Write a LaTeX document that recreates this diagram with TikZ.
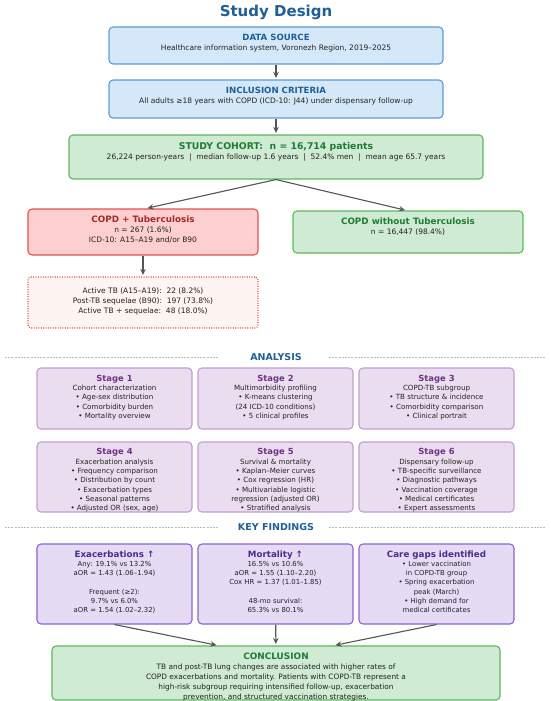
\documentclass[tikz,border=0pt]{standalone}
\usepackage{fontspec}
\setmainfont{DejaVu Sans}
\usetikzlibrary{arrows.meta}

\definecolor{txt}{HTML}{222222}
\definecolor{headblue}{HTML}{1F5F96}
\definecolor{bluefill}{HTML}{D5E8F9}
\definecolor{blueedge}{HTML}{5B9BD5}
\definecolor{greenfill}{HTML}{D0EBD3}
\definecolor{greenedge}{HTML}{5CB85C}
\definecolor{greenhead}{HTML}{1E7B34}
\definecolor{redfill}{HTML}{FDCFCF}
\definecolor{rededge}{HTML}{E05252}
\definecolor{redhead}{HTML}{A52A2A}
\definecolor{palefill}{HTML}{FEF4F2}
\definecolor{stagefill}{HTML}{EBDDF0}
\definecolor{stageedge}{HTML}{C39BD3}
\definecolor{stagehead}{HTML}{6C3483}
\definecolor{findfill}{HTML}{E5DBF5}
\definecolor{findedge}{HTML}{8E62D0}
\definecolor{findhead}{HTML}{4A2C8A}
\definecolor{arrowgray}{HTML}{555555}
\definecolor{sepgray}{HTML}{BBBBBB}

% bold coloured heading line, with a strut so that every box text starts alike
\newcommand{\hd}[3]{{\fontsize{#2}{#2}\selectfont\bfseries\color{#1}\rule{0pt}{0.8em}#3}}

\tikzset{
	box/.style={draw, rounded corners=4pt, line width=1.1pt, inner sep=0pt},
	bluebox/.style={box, draw=blueedge, fill=bluefill, minimum width=334pt},
	greenbox/.style={box, draw=greenedge, fill=greenfill},
	redbox/.style={box, draw=rededge, fill=redfill, minimum width=230pt},
	stagebox/.style={box, draw=stageedge, fill=stagefill, minimum width=155pt},
	findbox/.style={box, draw=findedge, fill=findfill, minimum width=155pt, minimum height=80pt},
	boxtext/.style={anchor=north, align=center, inner sep=0pt, text=txt, font=\fontsize{7.5}{10}\selectfont},
	stagetext/.style={boxtext, font=\fontsize{7.1}{9.3}\selectfont},
	findtext/.style={boxtext, font=\fontsize{6.9}{9.1}\selectfont},
	arr/.style={-{Stealth[length=6pt,width=5.5pt]}, color=arrowgray, line width=1.1pt, shorten >=1.5pt},
	sepline/.style={draw=sepgray, line width=0.6pt, dash pattern=on 2pt off 1.2pt},
	sechead/.style={inner sep=0pt, font=\fontsize{9.5}{10}\selectfont\bfseries, text=headblue}
}

\begin{document}
\begin{tikzpicture}[x=1pt,y=-1pt]
		\useasboundingbox (0,0) rectangle (550,701);
		\node[anchor=base, font=\fontsize{15}{15}\selectfont\bfseries, text=headblue] (title) at (276,16.5) {Study Design};
		
		% top of the flow
		\node[bluebox, minimum height=37pt] (src) at (276,45.5) {};
		\node[boxtext] (srctext) at ([yshift=-7.2pt]src.north)
			{\hd{headblue}{8.6}{DATA SOURCE}\\Healthcare information system, Voronezh Region, 2019–2025};
		\node[bluebox, minimum height=38pt] (incl) at (276,99) {};
		\node[boxtext] (incltext) at ([yshift=-7pt]incl.north)
			{\hd{headblue}{8.6}{INCLUSION CRITERIA}\\All adults ≥18 years with COPD (ICD-10: J44) under dispensary follow-up};
		\node[greenbox, minimum width=414pt, minimum height=44pt] (cohort) at (276,157) {};
		\node[boxtext] (cohorttext) at ([yshift=-7.4pt]cohort.north)
			{\hd{greenhead}{9.3}{STUDY COHORT:~~n = 16,714 patients}\\26,224 person-years~~|~~median follow-up 1.6 years~~|~~52.4\% men~~|~~mean age 65.7 years};
		\node[redbox, minimum height=46pt] (tb) at (143,232) {};
		\node[boxtext] (tbtext) at ([yshift=-7.3pt]tb.north)
			{\hd{redhead}{8.8}{COPD + Tuberculosis}\\n = 267 (1.6\%)\\ICD-10: A15–A19 and/or B90};
		\node[greenbox, minimum width=230pt, minimum height=42pt] (nontb) at (408,232) {};
		\node[boxtext] (nontbtext) at ([yshift=-7pt]nontb.north)
			{\hd{greenhead}{8.8}{COPD without Tuberculosis}\\n = 16,447 (98.4\%)};
		\node[box, draw=rededge, fill=palefill, dash pattern=on 1pt off 1.4pt, rounded corners=3pt,
			minimum width=230pt, minimum height=51pt] (tbdetail) at (143,302.5) {};
		\node[boxtext] (tbdetailtext) at ([yshift=-11pt]tbdetail.north)
			{\rule{0pt}{0.8em}Active TB (A15–A19):~~22 (8.2\%)\\Post-TB sequelae (B90):~~197 (73.8\%)\\Active TB + sequelae:~~48 (18.0\%)};
		
		\path [arr] (src) edge (incl);
		\path [arr] (incl) edge (cohort);
		\path [arr] (cohort.south) edge ([xshift=3pt]tb.north);
		\path [arr] (cohort.south) edge ([xshift=-1.5pt]nontb.north);
		\path [arr] (tb) edge (tbdetail);
		
		% analysis stages
		\node[sechead] (analysis) at (276,357) {ANALYSIS};
		\path [sepline] (5,357) -- (219,357) (329,357) -- (545,357);
		\begin{scope}[every node/.append style={stagebox, minimum height=61pt}]
			\node (s1) at (114.5,398.5) {};
			\node (s2) at (275.5,398.5) {};
			\node (s3) at (436.5,398.5) {};
		\end{scope}
		\begin{scope}[every node/.append style={stagebox, minimum height=70pt}]
			\node (s4) at (114.5,477) {};
			\node (s5) at (275.5,477) {};
			\node (s6) at (436.5,477) {};
		\end{scope}
		\begin{scope}[every node/.append style={stagetext}]
			\node (s1text) at ([yshift=-6.8pt]s1.north)
				{\hd{stagehead}{8.4}{Stage 1}\\Cohort characterization\\• Age-sex distribution\\• Comorbidity burden\\• Mortality overview};
			\node (s2text) at ([yshift=-6.8pt]s2.north)
				{\hd{stagehead}{8.4}{Stage 2}\\Multimorbidity profiling\\• K-means clustering\\(24 ICD-10 conditions)\\• 5 clinical profiles};
			\node (s3text) at ([yshift=-6.8pt]s3.north)
				{\hd{stagehead}{8.4}{Stage 3}\\COPD-TB subgroup\\• TB structure \& incidence\\• Comorbidity comparison\\• Clinical portrait};
			\node (s4text) at ([yshift=-6.6pt]s4.north)
				{\hd{stagehead}{8.4}{Stage 4}\\Exacerbation analysis\\• Frequency comparison\\• Distribution by count\\• Exacerbation types\\• Seasonal patterns\\• Adjusted OR (sex, age)};
			\node (s5text) at ([yshift=-6.6pt]s5.north)
				{\hd{stagehead}{8.4}{Stage 5}\\Survival \& mortality\\• Kaplan–Meier curves\\• Cox regression (HR)\\• Multivariable logistic\\regression (adjusted OR)\\• Stratified analysis};
			\node (s6text) at ([yshift=-6.6pt]s6.north)
				{\hd{stagehead}{8.4}{Stage 6}\\Dispensary follow-up\\• TB-specific surveillance\\• Diagnostic pathways\\• Vaccination coverage\\• Medical certificates\\• Expert assessments};
		\end{scope}
		
		% key findings
		\node[sechead] (findings) at (276,527) {KEY FINDINGS};
		\path [sepline] (5,527) -- (219,527) (329,527) -- (545,527);
		\node[findbox] (f1) at (114.5,584) {};
		\node[findbox] (f2) at (275.5,584) {};
		\node[findbox] (f3) at (436.5,584) {};
		\begin{scope}[every node/.append style={findtext}]
			\node (f1text) at ([yshift=-7pt]f1.north)
				{\hd{findhead}{8.7}{Exacerbations ↑}\\Any: 19.1\% vs 13.2\%\\aOR = 1.43 (1.06–1.94)\\[9.1pt]Frequent (≥2):\\9.7\% vs 6.0\%\\aOR = 1.54 (1.02–2.32)};
			\node (f2text) at ([yshift=-7pt]f2.north)
				{\hd{findhead}{8.7}{Mortality ↑}\\16.5\% vs 10.6\%\\aOR = 1.55 (1.10–2.20)\\Cox HR = 1.37 (1.01–1.85)\\[9.1pt]48-mo survival:\\65.3\% vs 80.1\%};
			\node (f3text) at ([yshift=-7pt]f3.north)
				{\hd{findhead}{8.7}{Care gaps identified}\\• Lower vaccination\\in COPD-TB group\\• Spring exacerbation\\peak (March)\\• High demand for\\medical certificates};
		\end{scope}
		
		\node[greenbox, minimum width=448pt, minimum height=54pt] (concl) at (276,673) {};
		\node[boxtext, font=\fontsize{7.4}{10}\selectfont] (concltext) at ([yshift=-7.2pt]concl.north)
			{\hd{greenhead}{8.9}{CONCLUSION}\\TB and post-TB lung changes are associated with higher rates of\\COPD exacerbations and mortality. Patients with COPD-TB represent a\\high-risk subgroup requiring intensified follow-up, exacerbation\\prevention, and structured vaccination strategies.};
		
		\path [arr] (f1.south) edge ([xshift=-58pt]concl.north);
		\path [arr] (f2) edge (concl);
		\path [arr] (f3.south) edge ([xshift=58pt]concl.north);
\end{tikzpicture}
\end{document}
